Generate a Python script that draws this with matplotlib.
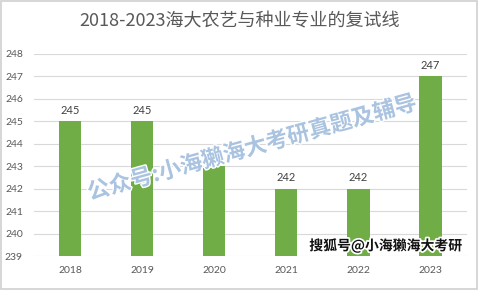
import matplotlib
matplotlib.use('Agg')
import matplotlib.pyplot as plt
import matplotlib.patheffects as pe

years = ['2018', '2019', '2020', '2021', '2022', '2023']
scores = [245, 245, 243, 242, 242, 247]
title = '2018-2023海大农艺与种业专业的复试线'
watermark = '公众号:小海獭海大考研真题及辅导'
signature = '搜狐号@小海獭海大考研'

plt.rcParams['font.family'] = ['Lato', 'Noto Sans CJK SC', 'DejaVu Sans']

fig = plt.figure(figsize=(4.79, 2.90), dpi=100)
ax = fig.add_axes([0.071, 0.117, 0.903, 0.697])

x = range(len(years))
ax.bar(x, [s - 239 for s in scores], bottom=239, width=0.31, color='#70ad47', zorder=3)
for i, s in zip(x, scores):
    ax.text(i, s + 0.25, str(s), ha='center', va='bottom', fontsize=8, color='#404040', zorder=4)

ax.set_xlim(-0.5, len(years) - 0.5)
ax.set_ylim(239, 248)
ax.set_yticks(range(239, 249))
ax.set_xticks(list(x))
ax.set_xticklabels(years)
ax.tick_params(axis='both', length=0, labelsize=7.5, labelcolor='#595959')
ax.tick_params(axis='x', pad=7)
ax.tick_params(axis='y', pad=8)
ax.grid(axis='y', color='#d9d9d9', linewidth=0.8, zorder=0)
for sp in ax.spines.values():
    sp.set_visible(False)

fig.text(0.5, 0.925, title, ha='center', va='center', fontsize=13, color='#595959',
         family=['Noto Sans CJK SC', 'DejaVu Sans'])

# diagonal watermark
fig.text(0.527, 0.49, watermark, ha='center', va='center', fontsize=16, color='#a9c3e0',
         rotation=15.5, fontweight='bold', family=['Noto Sans CJK SC', 'DejaVu Sans'], zorder=10,
         path_effects=[pe.withStroke(linewidth=2, foreground='white')])

fig.text(0.805, 0.152, signature, ha='center', va='center', fontsize=10, color='#111111',
         fontweight='bold', family=['Noto Sans CJK SC', 'DejaVu Sans'], zorder=10,
         path_effects=[pe.withStroke(linewidth=2.5, foreground='white')])

# light frame around the picture
fig.patches.append(plt.Rectangle((0.002, 0.004), 0.994, 0.992, transform=fig.transFigure,
                                 fill=False, edgecolor='#cfcfcf', linewidth=1.2))

fig.savefig('out.png', dpi=100)
